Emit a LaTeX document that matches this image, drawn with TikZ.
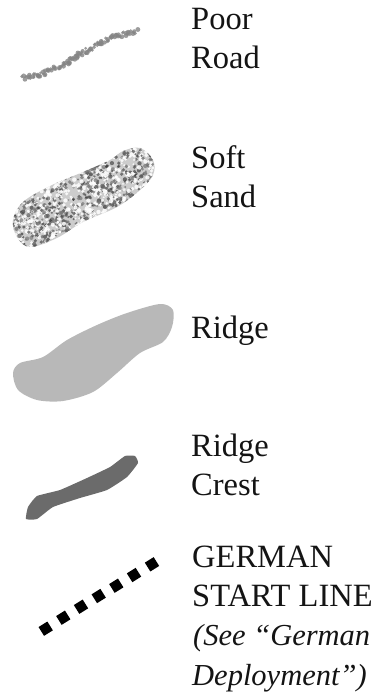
\documentclass[tikz,border=0pt]{standalone}
\usepackage{fontspec}
\setmainfont{Liberation Serif}
\definecolor{roadgrey}{gray}{0.52}
\definecolor{ridgegrey}{gray}{0.72}
\definecolor{crestgrey}{gray}{0.42}
\tikzset{
  label text/.style={anchor=base west,inner sep=0pt,font=\fontsize{32.5}{38}\selectfont,text=black!92},
  note text/.style={anchor=base west,inner sep=0pt,font=\fontsize{30.5}{38}\selectfont\itshape,text=black!92},
  startmark/.style={draw=none,fill=black,minimum size=10.4pt,inner sep=0pt,rotate=32},
  ridge shape/.style={fill=ridgegrey,draw=none},
  crest shape/.style={fill=crestgrey,draw=none}
}
\begin{document}
\begin{tikzpicture}[x=1pt,y=-1pt]
\useasboundingbox (0,0) rectangle (390,695);
\pgfmathsetseed{4217}
% Poor road
\foreach \a/\b/\c/\d in {23/78/43/74,43/74/67/63,67/63/80/54,80/54/100/43,100/43/117/36,117/36/137/31}{
  \foreach \t in {0,0.05,...,1.0}{
    \pgfmathsetmacro\px{\a+(\c-\a)*\t+2.2*rand}
    \pgfmathsetmacro\py{\b+(\d-\b)*\t+2.2*rand}
    \pgfmathsetmacro\pr{1.5+1.0*rnd}
    \fill[roadgrey,opacity=0.8] (\px,\py) circle[radius=\pr];
  }
}
% Soft sand
\begin{scope}
\clip plot[smooth cycle,tension=0.6] coordinates {(13,220)(23,202)(50,186)(83,172)(110,160)(123,151)(140,148)(153,160)(153,175)(140,190)(117,207)(83,222)(57,238)(30,247)(17,237)};
\fill[gray!40] (0,130) rectangle (170,260);
\foreach \i in {1,...,1200}{
  \pgfmathsetmacro\u{rnd}
  \pgfmathsetmacro\v{rand}
  \pgfmathsetmacro\px{10+145*\u+10*\v}
  \pgfmathsetmacro\py{228-74*\u+27*\v}
  \pgfmathsetmacro\pr{1.0+1.2*rnd}
  \pgfmathsetmacro\sh{int(rnd*100)}
  \ifnum\sh<46
    \fill[white,opacity=0.85] (\px,\py) circle[radius=\pr];
  \else
    \pgfmathsetmacro\dk{50+30*rnd}
    \fill[black!\dk,opacity=0.7] (\px,\py) circle[radius=\pr];
  \fi
}
\end{scope}
% Ridge
\fill[ridge shape] plot[smooth cycle,tension=0.5] coordinates {(13,373)(20,363)(43,357)(67,340)(97,325)(127,313)(160,304)(173,310)(172,327)(163,342)(140,353)(117,373)(93,392)(63,401)(37,400)(18,390)};
% Ridge crest
\fill[crest shape] plot[smooth cycle,tension=0.25] coordinates {(26,519)(28,507)(37,496)(60,490)(87,478)(110,467)(125,456)(135,456)(138,463)(127,477)(107,490)(80,498)(53,507)(37,519)};
% German start line
\node[startmark] (m1) at (45.7,628.7) {};
\node[startmark] (m2) at (63.3,617.7) {};
\node[startmark] (m3) at (81,606.7) {};
\node[startmark] (m4) at (98.7,596) {};
\node[startmark] (m5) at (116.3,585.7) {};
\node[startmark] (m6) at (134,575) {};
\node[startmark] (m7) at (152,564.3) {};
% Labels
\node[label text] (poor) at (191,29.5) {Poor};
\node[label text] (road) at (191,68.5) {Road};
\node[label text] (soft) at (191,168) {Soft};
\node[label text] (sand) at (191,207) {Sand};
\node[label text] (ridge) at (191,338) {Ridge};
\node[label text] (ridge2) at (191,456) {Ridge};
\node[label text] (crest) at (191,495) {Crest};
\node[label text] (german) at (192,567) {GERMAN};
\node[label text] (start) at (192,606) {START LINE};
\node[note text] (see) at (193,645) {(See “German};
\node[note text] (depl) at (192,685) {Deployment”)};
\end{tikzpicture}
\end{document}
